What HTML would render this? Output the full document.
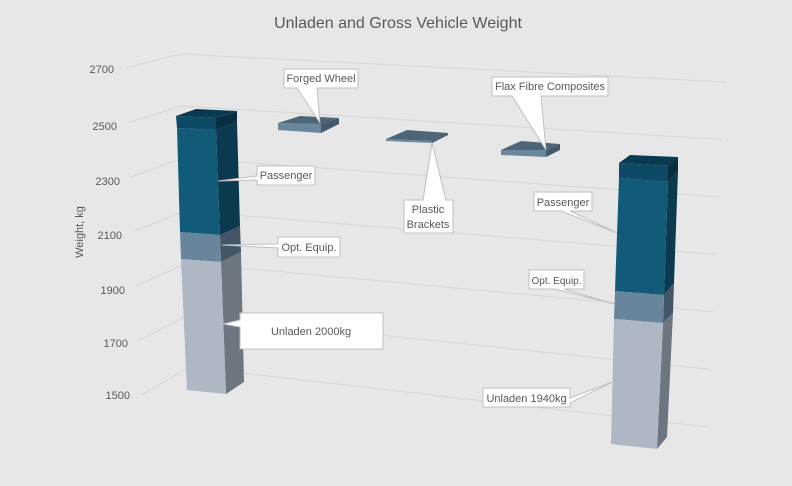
<!DOCTYPE html>
<html><head><meta charset="utf-8"><style>
html,body{margin:0;padding:0;background:#e7e7e7;}
svg{display:block;font-family:"Liberation Sans",sans-serif;}
</style></head><body>
<svg width="792" height="486" viewBox="0 0 792 486" xmlns="http://www.w3.org/2000/svg">
<rect width="792" height="486" fill="#e7e7e7"/>
<text x="398" y="28" text-anchor="middle" font-size="16" fill="#595959">Unladen and Gross Vehicle Weight</text>
<g stroke="#d4d4d4" stroke-width="1" fill="none">
<polyline points="126,68 180,54 725,82"/>
<polyline points="128.5,122.5 181.7,106 722.2,139.5"/>
<polyline points="131,177 183.4,158 719.4,197"/>
<polyline points="133.5,231.5 185.1,211 716.6,254.5"/>
<polyline points="136,286 186.8,263 713.8,312"/>
<polyline points="138.5,340.5 188.5,315 711,369.5"/>
<polyline points="141,395 190,367 708,427"/>
</g>
<g font-size="11" fill="#595959" text-anchor="end">
<text x="114" y="73">2700</text>
<text x="117" y="130">2500</text>
<text x="120" y="185">2300</text>
<text x="122" y="239">2100</text>
<text x="125" y="294">1900</text>
<text x="128" y="347">1700</text>
<text x="130" y="399">1500</text>
</g>
<text transform="translate(83,232) rotate(-90)" text-anchor="middle" font-size="11" fill="#595959">Weight, kg</text>

<!-- Bar 1 -->
<polygon points="176,116 196,109 237,111 216,118" fill="#0a3a52"/>
<polygon points="216,118 237,111 237,122 216,130" fill="#082e42"/>
<polygon points="216,130 237,122 240,226 220,235" fill="#0b3a50"/>
<polygon points="220,235 240,226 241,252 221,262" fill="#435667"/>
<polygon points="221,262 241,252 244,382 226,394" fill="#6c7680"/>
<polygon points="176,116 216,118 216,130 177,128" fill="#0e4a66"/>
<polygon points="177,128 216,130 220,235 180,232" fill="#115a78"/>
<polygon points="180,232 220,235 221,262 181,259" fill="#67869b"/>
<polygon points="181,259 221,262 226,394 187,390" fill="#adb8c4"/>

<!-- Bar 2 -->
<polygon points="619,163 630,155 678,157 668,166" fill="#0a3a52"/>
<polygon points="668,166 678,157 678,171 668,182" fill="#082e42"/>
<polygon points="668,182 678,171 674,283 664,295" fill="#0b3a50"/>
<polygon points="664,295 674,283 673,313 663,323" fill="#435667"/>
<polygon points="663,323 673,313 667,437 657,449" fill="#6c7680"/>
<polygon points="619,163 668,166 668,182 619,178" fill="#0e4a66"/>
<polygon points="619,178 668,182 664,295 615,291" fill="#115a78"/>
<polygon points="615,291 664,295 663,323 614,319" fill="#67869b"/>
<polygon points="614,319 663,323 657,449 611,444" fill="#adb8c4"/>

<!-- Plates -->
<polygon points="278,123 300,116 339,118 321,124" fill="#4e6477"/>
<polygon points="278,123 321,124 321,133 278,130" fill="#6a879c"/>
<polygon points="321,124 339,118 339,124 321,133" fill="#44596b"/>
<polygon points="386,139 407,130 448,133 432,141" fill="#4e6477"/>
<polygon points="386,139 432,141 432,143 386,141" fill="#6a879c"/>
<polygon points="432,141 448,133 448,135 432,143" fill="#44596b"/>
<polygon points="501,150 521,141 560,144 546,150" fill="#4e6477"/>
<polygon points="501,150 546,150 546,157 501,155" fill="#6a879c"/>
<polygon points="546,150 560,144 560,150 546,157" fill="#44596b"/>

<!-- Callouts -->
<g fill="#ffffff" stroke="#bfbfbf" stroke-width="1">
<polygon points="284,69 358,69 358,88 317,88 320,123 297,88 284,88"/>
<polygon points="492,77 608,77 608,96 541,96 546,150 512,96 492,96"/>
<polygon points="404,200 423,200 432,143 446,200 453,200 453,233 404,233"/>
<polygon points="257,166 315,166 315,185 257,185 257,180 218,181 257,176"/>
<polygon points="278,237 340,237 340,257 278,257 278,248 222,245 278,244"/>
<polygon points="240,313 383,313 383,349 240,349 240,327 223,324 240,320"/>
<polygon points="534,192 592,192 592,211 570,211 617,233 561,211 534,211"/>
<polygon points="529,270 584,270 584,289 564,289 614,304 555,289 529,289"/>
<polygon points="483,388 570,388 570,398 612,382 570,403 570,407 483,407"/>
</g>
<g font-size="11" fill="#595959" text-anchor="middle">
<text x="321" y="82">Forged Wheel</text>
<text x="550" y="90">Flax Fibre Composites</text>
<text x="428" y="213">Plastic</text>
<text x="428" y="228">Brackets</text>
<text x="286" y="179">Passenger</text>
<text x="309" y="251">Opt. Equip.</text>
<text x="311" y="335">Unladen 2000kg</text>
<text x="563" y="206">Passenger</text>
<text x="556.5" y="284" font-size="10">Opt. Equip.</text>
<text x="526.5" y="402">Unladen 1940kg</text>
</g>
</svg>
</body></html>
